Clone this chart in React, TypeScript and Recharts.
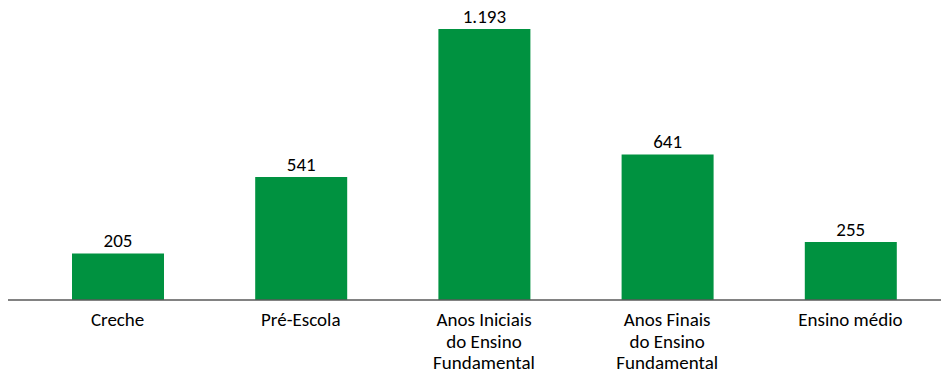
import { BarChart, Bar, XAxis, YAxis, LabelList } from "recharts";

const categorias = [
  "Creche",
  "Pré-Escola",
  "Anos Iniciais do Ensino Fundamental",
  "Anos Finais do Ensino Fundamental",
  "Ensino médio",
];
const linhasRotulo = [
  ["Creche"],
  ["Pré-Escola"],
  ["Anos Iniciais", "do Ensino", "Fundamental"],
  ["Anos Finais", "do Ensino", "Fundamental"],
  ["Ensino médio"],
];
const valores = [205, 541, 1193, 641, 255];

const data = categorias.map((nome, i) => ({ nome, valor: valores[i] }));

const fonte = "Calibri, Carlito, 'Open Sans', sans-serif";

function Rotulo(props: any) {
  const { x, y, payload } = props;
  const linhas = linhasRotulo[payload.index] ?? [payload.value];
  return (
    <text x={x} y={y + 18} textAnchor="middle" fill="#000" fontSize={19} fontFamily={fonte}>
      {linhas.map((l: string, i: number) => (
        <tspan key={i} x={x} dy={i === 0 ? 0 : 21.5}>
          {l}
        </tspan>
      ))}
    </text>
  );
}

export default function App() {
  return (
    <BarChart
      width={941}
      height={364}
      data={data}
      margin={{ top: 21, right: 1, bottom: 0, left: 0 }}
      style={{ overflow: "visible" }}
    >
      <XAxis
        dataKey="nome"
        interval={0}
        height={72}
        tickLine={false}
        axisLine={{ stroke: "#595959", strokeWidth: 1.3 }}
        padding={{ left: 18, right: 6 }}
        tick={<Rotulo />}
      />
      <YAxis hide domain={[0, 1193]} />
      <Bar dataKey="valor" fill="#009240" barSize={92} isAnimationActive={false}>
        <LabelList
          dataKey="valor"
          position="top"
          offset={6}
          fill="#000"
          fontSize={19}
          fontFamily={fonte}
          formatter={(v: any) => Number(v).toLocaleString("pt-BR")}
        />
      </Bar>
    </BarChart>
  );
}
